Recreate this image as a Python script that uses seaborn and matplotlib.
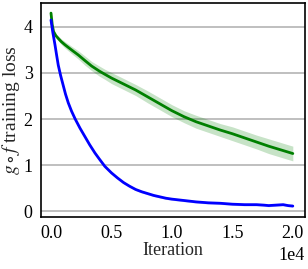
import seaborn as sns
import matplotlib.pyplot as plt
import numpy as np

# values
blue_iter = [0, 150, 330, 450, 600, 800, 1000, 1200, 1430, 1700, 2000, 2400, 2800, 3200,
             3640, 4000, 4460, 5000, 5500, 6000, 6500, 7000, 7500, 8000, 8500, 9000,
             9500, 10000, 11000, 12000, 13000, 14000, 15000, 16000, 17000, 17600, 18000,
             18600, 19200, 19600, 20000]
blue_loss = [4.15, 3.88, 3.61, 3.41, 3.17, 2.94, 2.74, 2.54, 2.35, 2.17, 2.00, 1.80, 1.62,
             1.44, 1.26, 1.13, 0.97, 0.83, 0.72, 0.62, 0.54, 0.47, 0.42, 0.38, 0.34, 0.31,
             0.28, 0.26, 0.23, 0.20, 0.18, 0.17, 0.15, 0.14, 0.14, 0.13, 0.12,
             0.13, 0.14, 0.12, 0.11]
blue_err = [0.025] * len(blue_iter)

green_iter = [0, 100, 210, 400, 600, 850, 1160, 1700, 2260, 2800, 3360, 4000, 4460, 5000,
              6000, 7000, 8000, 9000, 10000, 11000, 12000, 13000, 14000, 15000, 16000,
              17000, 18000, 19000, 20000]
green_loss = [4.30, 4.05, 3.90, 3.81, 3.75, 3.68, 3.61, 3.50, 3.39, 3.27, 3.15, 3.04, 2.97,
              2.89, 2.76, 2.63, 2.48, 2.33, 2.18, 2.05, 1.94, 1.85, 1.76, 1.68, 1.59,
              1.50, 1.41, 1.33, 1.25]
green_err = [0.0, 0.02, 0.03, 0.04, 0.05, 0.06, 0.07, 0.08, 0.09, 0.10, 0.10, 0.11, 0.11,
             0.12, 0.12, 0.12, 0.13, 0.13, 0.13, 0.13, 0.14, 0.14, 0.14, 0.15, 0.15,
             0.15, 0.16, 0.16, 0.16]

x_ticks = [0, 5000, 10000, 15000, 20000]
y_ticks = [0, 1, 2, 3, 4]

sns.set_style('white')
plt.rcParams['font.family'] = 'serif'
plt.rcParams['font.serif'] = ['Liberation Serif', 'DejaVu Serif']
plt.rcParams['mathtext.fontset'] = 'stix'
plt.rcParams['font.size'] = 13

fig, ax = plt.subplots(figsize=(3.08, 2.69), dpi=100)
fig.subplots_adjust(left=0.133, right=0.990, top=0.989, bottom=0.193)

for it, loss, err, col in [(green_iter, green_loss, green_err, 'green'),
                           (blue_iter, blue_loss, blue_err, 'blue')]:
    it = np.array(it)
    loss = np.array(loss)
    err = np.array(err)
    ax.fill_between(it, loss - err, loss + err, color=col, alpha=0.22, lw=0)
    sns.lineplot(x=it, y=loss, color=col, lw=2, ax=ax)

ax.set_xlim(-830, 21000)
ax.set_ylim(-0.13, 4.52)
ax.set_xticks(x_ticks)
ax.set_yticks(y_ticks)
ax.ticklabel_format(style='sci', axis='x', scilimits=(0, 0))
ax.xaxis.get_offset_text().set_fontsize(13)
ax.xaxis.get_offset_text().set_fontfamily('Liberation Serif')
ax.grid(axis='y', color='#b4b4b4', lw=1.2)
ax.set_axisbelow(True)
ax.tick_params(axis='both', direction='out', length=4, width=1, colors='black',
               labelsize=13, pad=2)
for lbl in ax.get_xticklabels() + ax.get_yticklabels():
    lbl.set_fontfamily('Liberation Serif')
for s in ax.spines.values():
    s.set_color('black')
    s.set_linewidth(1.2)

ax.set_xlabel('Iteration', fontsize=13, labelpad=0)
ax.set_ylabel(r'$g \circ f$ training loss', fontsize=14, labelpad=1)

plt.savefig('out.png', dpi=100)
